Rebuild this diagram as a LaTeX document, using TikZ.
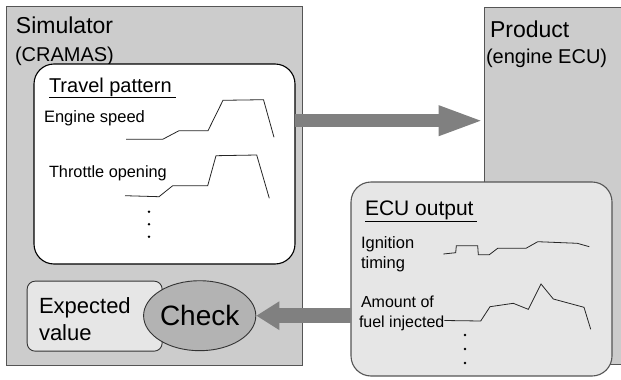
\documentclass[tikz,border=0pt]{standalone}
\usepackage{fontspec}
\setmainfont{Liberation Sans}
\usetikzlibrary{arrows.meta,shapes.geometric}

\definecolor{panelgray}{HTML}{CCCCCC}
\definecolor{paleGray}{HTML}{E6E6E6}
\definecolor{checkgray}{HTML}{B3B3B3}
\definecolor{flowgray}{HTML}{808080}
\definecolor{edgegray}{HTML}{555555}

\tikzset{
  panel/.style={draw=edgegray, line width=0.9pt, fill=panelgray, inner sep=0pt, outer sep=0pt, anchor=north west},
  card/.style={draw=black, line width=1.1pt, rounded corners=20pt, inner sep=0pt, outer sep=0pt, anchor=north west},
  label/.style={inner sep=0pt, outer sep=0pt, anchor=base west},
  trace/.style={line width=0.8pt, draw=black!85},
  flow/.style={draw=flowgray, line width=#1, line cap=butt},
  bigdot/.style={fill=black, circle, inner sep=0pt, minimum size=2.8pt},
}
\newcommand{\fs}[1]{\fontsize{#1}{#1}\selectfont}

\begin{document}
\begin{tikzpicture}[x=1pt, y=-1pt]
\useasboundingbox (0,0) rectangle (621,380);

% Simulator and product panels
\node[panel, minimum width=296pt, minimum height=359pt] (sim) at (6,6) {};
\node[panel, minimum width=145pt, minimum height=357pt] (prod) at (484.5,7) {};

\node[label, font=\fs{23}] (simT) at (16,33) {Simulator};
\node[label, font=\fs{20}] (simS) at (15,61) {(CRAMAS)};
\node[label, font=\fs{23}] (prodT) at (490,37) {Product};
\node[label, font=\fs{20}] (prodS) at (486,63) {(engine ECU)};

% Travel pattern card
\node[card, fill=white, minimum width=261pt, minimum height=200pt] (trav) at (34,64) {};
\node[label, font=\fs{20}] (travT) at (49,92) {Travel pattern};
\draw[line width=1pt] ([yshift=-5pt]travT.base west) -- ([xshift=4pt,yshift=-5pt]travT.base east);
\node[label, font=\fs{16.5}] (eng) at (44,122) {Engine speed};
\node[label, font=\fs{16.3}] (thr) at (49,177) {Throttle opening};
\draw[trace] (126,139.3) -- (162.7,139.3) -- (179,130.7) -- (208,130.7) -- (223,100.3) -- (263.5,99.7) -- (274,137.3);
\draw[trace] (125,195.7) -- (159,196.7) -- (172.7,185.7) -- (207.7,185.7) -- (216,155.7) -- (256.7,155) -- (269.3,198.3);
\node[bigdot] (td1) at (149,211.7) {};
\node[bigdot] (td2) at (149,224.3) {};
\node[bigdot] (td3) at (149,236.7) {};

% ECU output card
\node[card, draw=edgegray, fill=paleGray, minimum width=261pt, minimum height=194pt] (ecu) at (351,182) {};
\node[label, font=\fs{21}] (ecuT) at (365,215) {ECU output};
\draw[line width=1pt] ([yshift=-6pt]ecuT.base west) -- ([xshift=3pt,yshift=-6pt]ecuT.base east);
\node[label, font=\fs{16.5}] (ign1) at (361,248) {Ignition};
\node[label, font=\fs{16.5}] (ign2) at (361,268) {timing};
\node[label, font=\fs{16}] (fue1) at (361,307) {Amount of};
\node[label, font=\fs{16}] (fue2) at (359,327) {fuel injected};
\draw[trace] (443.3,254) -- (455.7,252.7) -- (456.3,245.7) -- (477.7,245.7) -- (478.3,254.7) -- (489.3,254.7) -- (497.7,248.3) -- (526,248.3) -- (537.7,241.7) -- (577.3,243.3) -- (589.3,246.7);
\draw[trace] (fue2.base east |- 0,320.5) -- (480.7,321) -- (490,306.7) -- (513.3,303.3) -- (528.3,309.3) -- (541,284) -- (553.3,299) -- (584,307.3) -- (590.7,329.3);
\node[bigdot] (ed1) at (465,335) {};
\node[bigdot] (ed2) at (465,349) {};
\node[bigdot] (ed3) at (465,363) {};

% Expected value and check
\node[draw=black!80, line width=0.9pt, fill=paleGray, rounded corners=8pt, inner sep=0pt, anchor=north west,
      minimum width=135pt, minimum height=70pt] (expv) at (26.7,280.7) {};
\node[label, font=\fs{22}] (expT1) at (39,313) {Expected};
\node[label, font=\fs{22}] (expT2) at (39,340) {value};
\node[draw=black!80, line width=0.9pt, fill=checkgray, ellipse, inner sep=0pt,
      minimum width=106pt, minimum height=70pt, font=\fs{28}] (chk) at (199.7,315.7) {Check};

% Data flows
\draw[flow=13pt, -{Triangle[length=46pt,width=27pt]}, color=flowgray]
  ([yshift=-56.7pt]trav.north east) -- ([yshift=-113.7pt]prod.north west);
\draw[flow=15pt, -{Triangle[length=23pt,width=27pt]}, color=flowgray]
  (ecu.west |- chk.east) -- (chk.east);
\end{tikzpicture}
\end{document}
